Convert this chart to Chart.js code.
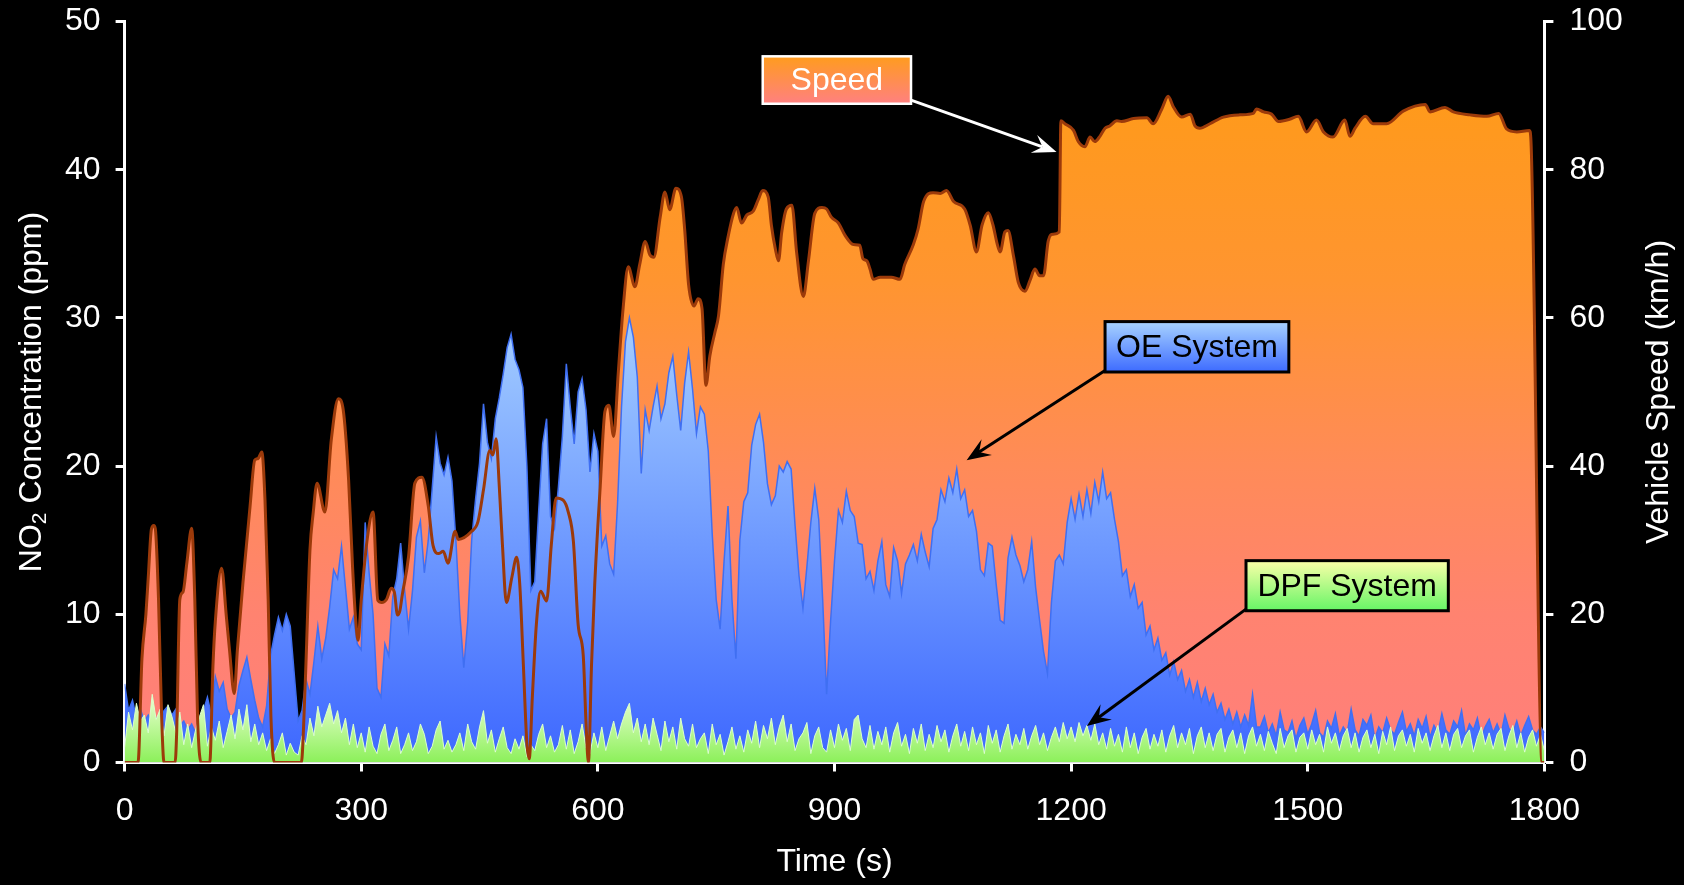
<!DOCTYPE html>
<html>
<head>
<meta charset="utf-8">
<title>NO2 concentration and vehicle speed</title>
<script src="https://cdn.jsdelivr.net/npm/chart.js@4.4.1/dist/chart.umd.min.js"></script>
<style>
  html, body { margin: 0; padding: 0; background: #000; }
  canvas { display: block; }
</style>
</head>
<body>
<canvas id="chart" width="1684" height="885"></canvas>
<script>
// ───── NO2 downstream of OE and DPF systems vs. vehicle speed ─────
// Speed (right axis, km/h) is filled behind both NO2 traces, its outline on top.

// Vehicle speed trace: sample times (s) and speed (km/h)
const speedTime = [
  0, 17, 22, 27, 30, 34, 37, 39, 43, 47,
  50, 64, 66, 70, 74, 79, 85, 89, 92.5, 97,
  108, 112, 115, 123, 129, 133, 139, 143, 150, 159,
  165, 169, 174, 178, 182, 185.5, 190, 224, 229, 235,
  239, 244, 254, 262, 271, 277, 284, 289, 293, 296,
  300, 308, 315, 321, 326, 332, 338, 342, 346, 349,
  352, 360, 368, 377, 385, 391, 398, 404, 410, 419,
  423, 440, 448, 455, 463, 467, 471, 475, 479, 484,
  491, 497, 501, 505.5, 510, 513, 517, 522, 527.5, 535,
  541, 547, 556, 562.5, 569, 575, 581.5, 585, 588, 592,
  596, 603, 609, 614, 620, 626, 632, 638.5, 647, 653,
  660, 666, 671, 679, 685, 691, 699, 706, 710, 715,
  722, 727, 732, 737, 742, 748.5, 753, 759, 765, 772,
  776, 782, 789, 797, 803.5, 809, 816, 820, 825, 829,
  833, 839, 846, 852, 860.5, 867, 875, 884, 890, 896,
  905, 913, 924, 932, 936, 941, 945, 949, 958, 972,
  983, 989, 1000, 1006, 1013, 1025, 1034, 1042, 1051, 1065,
  1072, 1080, 1087, 1095, 1101, 1106, 1110, 1116, 1120, 1127,
  1133, 1141.5, 1148, 1154, 1160, 1165, 1171, 1177, 1185, 1187,
  1192, 1203, 1209, 1217.5, 1224, 1230, 1236.5, 1243, 1249, 1258,
  1264, 1279, 1296, 1304, 1315, 1323, 1329.5, 1340, 1351, 1357,
  1363, 1376, 1393, 1414, 1431, 1435, 1444, 1454, 1463, 1477,
  1488, 1498.5, 1511, 1520, 1532, 1547, 1553.5, 1560, 1573, 1583,
  1600, 1621, 1649, 1655, 1674, 1684.5, 1706, 1727, 1742, 1752,
  1765, 1781, 1783, 1797, 1800
];
const speedKmh = [
  0, 0, 14, 20, 25, 31.5, 32, 31.5, 22, 6,
  0, 0, 4, 22, 23, 27, 31.6, 22, 6, 0,
  0, 13, 19, 26.2, 19.7, 15.2, 9.3, 15.2, 24.2, 34.5,
  40.8, 41, 41.9, 35.4, 22, 6.2, 0, 0, 10.7, 28.7,
  33.6, 37.7, 33.8, 43.5, 49.1, 47.7, 38.1, 26.4, 19.2, 16.5,
  21.9, 30.5, 33.8, 21.9, 21.6, 22, 23.5, 23, 19.9, 20.5,
  22.6, 27.8, 37.7, 38.5, 34.6, 29.3, 28.2, 28.5, 26.9, 31.2,
  30.1, 31.2, 32.5, 36.8, 42.1, 41.5, 43.7, 37.3, 29.4, 21.6,
  25, 27.7, 24, 13.3, 2.6, 0.5, 9, 18.6, 23.1, 21.8,
  29.4, 35.7, 35.4, 33.8, 29.8, 18.6, 14.4, 5.3, 0, 13.3,
  24, 37.3, 47.4, 48.2, 44, 52.8, 61.3, 66.9, 64.2, 67.2,
  70.3, 68.5, 68.2, 73.6, 77, 74.6, 77.5, 76.3, 72, 64.5,
  61.6, 62.6, 61.3, 50.9, 54.9, 58.1, 60.3, 67.2, 70.9, 74.1,
  74.9, 72.8, 73.9, 74.4, 76, 77.2, 76.3, 72.5, 69.3, 67.7,
  71.5, 74.7, 75.2, 68.8, 62.9, 67.7, 74.1, 74.9, 74.7, 73.6,
  72.8, 71.2, 69.9, 69.8, 68, 67.7, 66.6, 65.2, 65.5, 65.5,
  65.2, 67.2, 69.9, 72, 75.7, 76.9, 76.8, 77.2, 75.7, 74.7,
  72.5, 68.9, 72.5, 74.2, 72.5, 70.1, 68.9, 71.6, 71.8, 68.3,
  64.8, 63.6, 65.1, 66.6, 65.7, 65.7, 70.4, 71.3, 71.6, 86.6,
  86.2, 85.3, 83.8, 83.1, 84.4, 83.8, 84.5, 85.6, 85.9, 86.6,
  86.5, 86.9, 87, 86.2, 88.2, 89.9, 88.5, 87.1, 87.5, 85.9,
  85.6, 86.2, 87.1, 87.4, 87.6, 88.2, 87.8, 87.5, 86.5, 86.8,
  87.2, 85.1, 86.7, 85.1, 84.4, 86.7, 84.5, 85.6, 87.2, 86.2,
  86.2, 87.9, 88.8, 87.8, 88.4, 87.8, 87.4, 87.2, 87.6, 85.5,
  85.1, 85.3, 83.8, 0, 0
];

// NO2 traces are logged every 5 s, one row per minute
const NO2_STEP = 5;

// NO2 after the OE system (ppm)
const oePpm = [
  5.3, 3.5, 4.2, 3.0, 3.6, 2.8, 3.2, 2.6, 3.0, 2.4, 3.5, 3.8,
  3.2, 3.6, 2.5, 2.8, 2.2, 2.6, 2.0, 2.4, 3.5, 4.4, 3.2, 5.8,
  4.8, 5.4, 3.6, 3.0, 3.4, 5.2, 6.2, 7.1, 5.6, 4.2, 3.0, 2.4,
  3.8, 7.2, 8.6, 9.8, 8.9, 10.0, 9.2, 6.0, 2.8, 3.5, 5.6, 4.6,
  6.8, 9.2, 7.0, 8.4, 10.5, 13.0, 12.4, 14.6, 11.8, 9.0, 9.8, 8.0,
  7.6, 16.2, 12.8, 10.0, 5.0, 4.4, 8.0, 7.2, 11.2, 12.4, 14.8, 11.6,
  9.0, 11.6, 15.2, 16.3, 12.8, 15.0, 18.5, 22.0, 20.2, 19.4, 20.6, 19.0,
  15.0, 10.0, 6.4, 9.5, 15.0, 17.8, 20.2, 24.2, 21.6, 20.5, 23.2, 24.6,
  26.2, 28.0, 28.9, 27.2, 26.5, 25.3, 20.0, 11.6, 12.2, 17.0, 21.5, 23.2,
  16.6, 15.8, 18.6, 22.0, 26.9, 24.0, 21.5, 25.0, 25.9, 23.8, 19.6, 22.2,
  21.0, 14.6, 15.3, 13.4, 12.7, 17.5, 24.0, 28.4, 30.0, 28.7, 26.0, 19.5,
  23.8, 22.4, 24.0, 25.4, 23.2, 24.2, 26.3, 27.4, 24.8, 22.4, 25.6, 27.7,
  25.2, 22.2, 24.0, 23.5, 21.0, 15.4, 11.0, 9.0, 13.6, 17.3, 11.0, 7.0,
  15.0, 17.6, 18.2, 21.4, 22.8, 23.5, 21.6, 18.8, 17.4, 18.0, 20.0, 19.6,
  20.3, 19.8, 16.0, 12.6, 10.4, 13.2, 16.2, 18.5, 16.4, 11.0, 4.6, 9.5,
  13.6, 17.0, 16.2, 18.3, 17.0, 16.6, 14.8, 14.7, 12.4, 12.9, 11.6, 13.6,
  14.9, 12.0, 11.2, 14.5, 13.6, 11.4, 13.4, 14.0, 14.7, 13.6, 15.4, 14.2,
  13.2, 15.8, 16.4, 18.4, 17.6, 19.2, 18.2, 19.8, 17.8, 18.4, 16.6, 17.0,
  15.6, 13.0, 12.6, 14.8, 14.6, 12.0, 9.6, 9.4, 13.8, 15.2, 14.0, 13.3,
  12.2, 13.0, 14.9, 11.8, 9.6, 7.5, 6.0, 10.8, 13.6, 14.0, 13.4, 16.2,
  17.8, 16.4, 18.1, 16.6, 18.4, 16.8, 18.9, 17.6, 19.6, 17.8, 18.2, 16.4,
  14.9, 12.6, 13.0, 11.2, 12.0, 10.4, 10.8, 8.6, 9.2, 7.6, 8.4, 6.9,
  7.4, 5.9, 6.8, 5.6, 6.2, 4.8, 5.6, 4.4, 5.4, 4.1, 5.0, 3.9,
  4.6, 3.4, 4.0, 2.9, 3.6, 2.6, 3.4, 2.4, 3.2, 2.5, 4.6, 2.4,
  2.4, 3.1, 2.0, 2.6, 1.8, 3.4, 2.2, 2.0, 2.8, 1.6, 2.5, 3.0,
  1.9, 2.6, 3.5, 2.0, 1.7, 2.8, 2.3, 3.3, 1.8, 2.4, 2.0, 3.6,
  2.2, 1.8, 2.9, 2.5, 3.2, 1.6, 2.4, 2.0, 3.0, 2.2, 1.9, 2.7,
  3.4, 2.1, 2.6, 1.8, 2.9, 2.3, 3.1, 1.7, 2.5, 2.0, 3.3, 2.2,
  1.9, 2.8, 2.4, 3.5, 1.8, 2.6, 2.2, 3.0, 1.7, 2.4, 2.9, 2.0,
  2.6, 1.9, 3.2, 2.3, 2.0, 2.8, 1.8, 2.5, 3.1, 2.2, 1.9, 2.4,
  2.0
];

// NO2 after the DPF system (ppm)
const dpfPpm = [
  1.0, 3.4, 2.2, 4.0, 2.8, 3.2, 2.0, 4.6, 2.9, 3.6, 1.8, 3.9,
  3.1, 2.0, 3.4, 1.2, 2.6, 1.0, 2.2, 3.1, 3.9, 1.1, 2.4, 1.5,
  2.8, 1.0, 2.1, 3.2, 1.6, 3.6, 2.2, 3.9, 1.4, 2.6, 1.2, 2.0,
  0.8, 1.6, 0.6, 1.2, 2.0, 0.5, 1.3, 0.7, 0.5, 1.8, 1.2, 3.0,
  1.8, 3.8, 2.4, 3.2, 4.0, 2.6, 3.5, 2.0, 3.0, 1.2, 2.6, 1.0,
  2.0, 0.7, 2.4, 1.1, 0.6, 1.9, 2.6, 0.8, 1.5, 2.4, 0.6, 1.2,
  2.0, 0.8, 1.4, 2.6, 1.9, 0.6, 1.1, 2.2, 2.8, 0.9, 1.5, 0.7,
  1.2, 2.0, 0.8, 2.6, 1.4, 0.9, 2.4, 3.5, 1.3, 2.2, 0.7, 1.6,
  2.4, 1.0, 0.6, 1.6, 0.9, 1.8, 0.4, 1.2, 0.8, 1.9, 2.6, 1.0,
  1.8, 0.7, 1.2, 2.5, 0.9, 2.2, 0.6, 1.4, 2.6, 1.0, 0.6, 2.0,
  1.0, 2.4, 0.8, 1.8, 2.8, 1.6, 2.6, 3.4, 4.0, 2.0, 3.0, 1.4,
  2.6, 1.2, 3.0, 1.9, 0.8, 2.8, 1.4, 2.4, 0.9, 3.0, 1.6, 1.1,
  2.6, 1.0, 1.6, 2.0, 0.6, 2.6, 1.2, 1.9, 0.5, 1.4, 2.4, 0.9,
  1.8, 0.7, 2.2, 1.3, 2.8, 1.0, 2.5, 1.6, 3.0, 1.2, 2.4, 3.2,
  1.4, 2.6, 0.8, 1.6, 2.0, 2.7, 0.6, 1.8, 2.4, 1.0, 0.7, 2.2,
  1.0, 2.6, 1.5, 2.3, 0.8, 2.9, 3.2, 1.6, 1.0, 2.5, 0.9, 2.1,
  1.2, 2.4, 0.7, 2.0, 2.7, 1.1, 1.9, 0.6, 2.3, 1.3, 2.6, 0.8,
  1.9, 1.0, 2.5, 1.4, 2.2, 0.7, 1.8, 2.6, 1.1, 2.1, 0.8, 2.4,
  1.2, 2.0, 0.6, 2.5, 1.3, 2.2, 0.7, 1.8, 2.6, 0.9, 1.9, 1.2,
  2.3, 0.9, 1.8, 2.5, 1.2, 2.0, 0.8, 1.7, 2.4, 1.4, 2.7, 1.6,
  2.4, 1.4, 2.7, 1.8, 2.5, 1.5, 2.6, 1.2, 2.0, 0.9, 2.3, 1.1,
  1.9, 0.7, 2.4, 1.0, 2.0, 0.6, 1.7, 2.3, 0.9, 1.9, 1.1, 2.2,
  0.7, 1.8, 2.5, 1.0, 2.0, 1.2, 2.3, 0.6, 1.8, 2.4, 1.0, 2.0,
  0.8, 1.9, 2.3, 0.7, 1.7, 2.2, 1.0, 2.0, 0.6, 1.8, 2.4, 1.1,
  1.9, 0.8, 2.1, 1.3, 0.6, 2.3, 1.0, 1.8, 2.2, 0.7, 1.7, 2.0,
  0.9, 2.2, 1.2, 1.9, 0.7, 2.4, 1.3, 2.0, 0.8, 1.8, 2.3, 1.0,
  2.0, 0.7, 1.7, 2.2, 1.0, 1.9, 0.6, 2.1, 1.2, 2.4, 0.8, 1.8,
  2.2, 1.1, 1.9, 0.7, 2.3, 1.3, 2.0, 0.8, 1.8, 2.5, 1.0, 2.0,
  0.8, 1.9, 2.3, 1.0, 1.8, 2.2, 0.7, 1.7, 2.4, 1.2, 2.0, 0.9,
  1.9, 2.3, 0.8, 1.8, 2.5, 1.0, 2.0, 0.7, 1.7, 2.2, 1.1, 1.9,
  0.8
];

// Callout boxes, placed in axis units (time in s, value on the named axis)
const callouts = [
  { text: 'Speed', axis: 'y1', t0: 809, t1: 997, v0: 95.3, v1: 88.9,
    from: [997, 89.4], tip: [1181.5, 82.4],
    fill: ['#ff9c1e', '#ff8080'], edge: '#ffffff', ink: '#ffffff', edgeWidth: 2.5 },
  { text: 'OE System', axis: 'y', t0: 1243, t1: 1476, v0: 29.75, v1: 26.35,
    from: [1243, 26.45], tip: [1067.5, 20.4],
    fill: ['#a8d3ff', '#3d6bff'], edge: '#000000', ink: '#000000', edgeWidth: 3 },
  { text: 'DPF System', axis: 'y', t0: 1421.7, t1: 1678.2, v0: 13.62, v1: 10.24,
    from: [1421.7, 10.35], tip: [1220, 2.46],
    fill: ['#fbffa8', '#66f566'], edge: '#000000', ink: '#000000', edgeWidth: 3 }
];

const FONT = '"Liberation Sans", Arial, Helvetica, sans-serif';
Chart.defaults.font.family = FONT;
Chart.defaults.color = '#ffffff';

const speedPoints = speedTime.map((t, i) => ({ x: t, y: speedKmh[i] }));
const oePoints = oePpm.map((v, i) => ({ x: i * NO2_STEP, y: v }));
const dpfPoints = dpfPpm.map((v, i) => ({ x: i * NO2_STEP, y: v }));

// vertical gradient between two values of a given axis; null until the axes are laid out
function axisGradient(chart, axisId, top, bottom, stops) {
  const scale = chart.scales[axisId];
  if (!chart.chartArea || !scale) return null;
  const y0 = scale.getPixelForValue(top);
  const y1 = scale.getPixelForValue(bottom);
  if (!Number.isFinite(y0) || !Number.isFinite(y1)) return null;
  const g = chart.ctx.createLinearGradient(0, y0, 0, y1);
  stops.forEach(([p, c]) => g.addColorStop(p, c));
  return g;
}

function drawArrow(ctx, x1, y1, x2, y2, color) {
  const ang = Math.atan2(y2 - y1, x2 - x1);
  const len = 24, half = 9.5, notch = 0.62;
  ctx.save();
  ctx.strokeStyle = color;
  ctx.fillStyle = color;
  ctx.lineWidth = 3;
  ctx.beginPath();
  ctx.moveTo(x1, y1);
  ctx.lineTo(x2 - Math.cos(ang) * len * notch, y2 - Math.sin(ang) * len * notch);
  ctx.stroke();
  ctx.translate(x2, y2);
  ctx.rotate(ang);
  ctx.beginPath();
  ctx.moveTo(0, 0);
  ctx.lineTo(-len, -half);
  ctx.lineTo(-len * notch, 0);
  ctx.lineTo(-len, half);
  ctx.closePath();
  ctx.fill();
  ctx.restore();
}

// axis titles on both sides read bottom-to-top, plus the three callouts
const overlayPlugin = {
  id: 'overlay',
  afterDraw(chart) {
    const { ctx, scales, chartArea } = chart;
    const midY = (chartArea.top + chartArea.bottom) / 2;

    ctx.save();
    ctx.fillStyle = '#ffffff';
    ctx.textBaseline = 'middle';
    ctx.textAlign = 'left';

    // left: NO2 with subscript
    const big = `32px ${FONT}`, small = `21px ${FONT}`;
    ctx.font = big;
    const wNO = ctx.measureText('NO').width;
    const wRest = ctx.measureText(' Concentration (ppm)').width;
    ctx.font = small;
    const wSub = ctx.measureText('2').width;
    const total = wNO + wSub + wRest;
    ctx.save();
    ctx.translate(32, midY);
    ctx.rotate(-Math.PI / 2);
    let x = -total / 2;
    ctx.font = big;
    ctx.fillText('NO', x, 0);
    x += wNO;
    ctx.font = small;
    ctx.fillText('2', x, 8);
    x += wSub;
    ctx.font = big;
    ctx.fillText(' Concentration (ppm)', x, 0);
    ctx.restore();

    // right
    ctx.save();
    ctx.translate(1659, midY);
    ctx.rotate(-Math.PI / 2);
    ctx.textAlign = 'center';
    ctx.font = big;
    ctx.fillText('Vehicle Speed (km/h)', 0, 0);
    ctx.restore();
    ctx.restore();

    callouts.forEach((c) => {
      const ys = scales[c.axis];
      const bx0 = scales.x.getPixelForValue(c.t0);
      const bx1 = scales.x.getPixelForValue(c.t1);
      const by0 = ys.getPixelForValue(c.v0);
      const by1 = ys.getPixelForValue(c.v1);
      drawArrow(ctx,
        scales.x.getPixelForValue(c.from[0]), ys.getPixelForValue(c.from[1]),
        scales.x.getPixelForValue(c.tip[0]), ys.getPixelForValue(c.tip[1]), c.edge);

      ctx.save();
      const g = ctx.createLinearGradient(0, by0, 0, by1);
      g.addColorStop(0, c.fill[0]);
      g.addColorStop(1, c.fill[1]);
      ctx.fillStyle = g;
      ctx.fillRect(bx0, by0, bx1 - bx0, by1 - by0);
      ctx.strokeStyle = c.edge;
      ctx.lineWidth = c.edgeWidth;
      ctx.strokeRect(bx0, by0, bx1 - bx0, by1 - by0);
      ctx.fillStyle = c.ink;
      ctx.font = `32px ${FONT}`;
      ctx.textAlign = 'center';
      ctx.textBaseline = 'middle';
      ctx.fillText(c.text, (bx0 + bx1) / 2, (by0 + by1) / 2 + 1);
      ctx.restore();
    });
  }
};

const axisGrid = { drawOnChartArea: false, color: '#ffffff', tickColor: '#ffffff', tickLength: 9, tickWidth: 3 };
const axisBorder = { color: '#ffffff', width: 3 };
const tickFont = { size: 32 };
const plainNumber = (v) => String(v);

// fixed axis boxes so the plot area lands at the same place every time
function fixWidth(w) {
  return (scale) => { scale.width = w; scale.paddingTop = 0; scale.paddingBottom = 0; };
}

new Chart(document.getElementById('chart'), {
  type: 'line',
  data: {
    datasets: [
      {
        // speed outline, drawn over everything
        label: 'Speed',
        data: speedPoints,
        yAxisID: 'y1',
        borderColor: '#9c3a0a',
        borderWidth: 3,
        fill: false,
        pointRadius: 0,
        cubicInterpolationMode: 'monotone',
        order: 0,
      },
      {
        label: 'DPF System',
        data: dpfPoints,
        yAxisID: 'y',
        borderColor: '#dcffcc',
        borderWidth: 1,
        backgroundColor: (ctx) => axisGradient(ctx.chart, 'y', 4.5, 0, [[0, '#eaffd2'], [1, '#8cf05a']]),
        fill: 'origin',
        pointRadius: 0,
        tension: 0,
        order: 1,
      },
      {
        label: 'OE System',
        data: oePoints,
        yAxisID: 'y',
        borderColor: '#3f6ff2',
        borderWidth: 1.5,
        backgroundColor: (ctx) => axisGradient(ctx.chart, 'y', 30, 0, [[0, '#a4ceff'], [0.5, '#6f9aff'], [1, '#3d67ff']]),
        fill: 'origin',
        pointRadius: 0,
        tension: 0,
        order: 2,
      },
      {
        // speed area, behind the NO2 traces
        label: 'Speed area',
        data: speedPoints,
        yAxisID: 'y1',
        borderWidth: 0,
        borderColor: 'rgba(0,0,0,0)',
        backgroundColor: (ctx) => axisGradient(ctx.chart, 'y1', 100, 0,
          [[0, '#ff9c12'], [0.35, '#ff9530'], [0.6, '#ff8b58'], [0.8, '#ff8370'], [1, '#ff7f7b']]),
        fill: 'origin',
        pointRadius: 0,
        cubicInterpolationMode: 'monotone',
        order: 3,
      },
    ],
  },
  options: {
    responsive: false,
    animation: false,
    devicePixelRatio: 1,
    layout: { padding: { top: 21.5, left: 0, right: 0, bottom: 0 } },
    plugins: {
      legend: { display: false },
      tooltip: { enabled: false },
    },
    scales: {
      x: {
        type: 'linear',
        min: 0,
        max: 1800,
        border: axisBorder,
        grid: axisGrid,
        ticks: { stepSize: 300, color: '#ffffff', font: tickFont, padding: 20, maxRotation: 0, autoSkip: false, callback: plainNumber },
        title: { display: true, text: 'Time (s)', color: '#ffffff', font: { size: 32 }, padding: { top: 0, bottom: 4 } },
        afterFit(scale) { scale.height = 122.5; scale.paddingLeft = 0; scale.paddingRight = 0; },
      },
      y: {
        position: 'left',
        min: 0,
        max: 50,
        border: axisBorder,
        grid: axisGrid,
        ticks: { stepSize: 10, color: '#ffffff', font: tickFont, padding: 15, callback: plainNumber },
        afterFit: fixWidth(124.6),
      },
      y1: {
        position: 'right',
        min: 0,
        max: 100,
        border: axisBorder,
        grid: axisGrid,
        ticks: { stepSize: 20, color: '#ffffff', font: tickFont, padding: 16, callback: plainNumber },
        afterFit: fixWidth(139.6),
      },
    },
  },
  plugins: [overlayPlugin],
});
</script>
</body>
</html>
